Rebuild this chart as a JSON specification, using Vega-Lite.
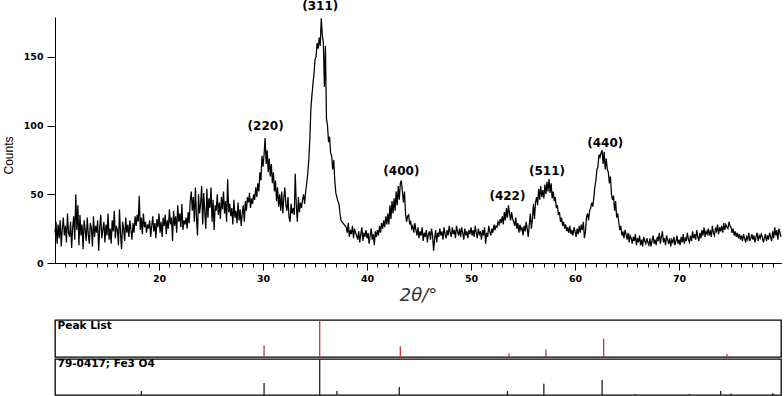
{
"$schema": "https://vega.github.io/schema/vega-lite/v6.json",
"background": "white",
"padding": {"left": 2, "top": 0, "right": 2, "bottom": 0},
"config": {"view": {"stroke": null}, "axis": {"grid": false, "domainColor": "black", "tickColor": "black", "labelColor": "black", "titleColor": "black"}},
"datasets": {
"xrd": [
{"t":10.0,"c":22},{"t":10.1,"c":30},{"t":10.2,"c":14},{"t":10.3,"c":28},{"t":10.4,"c":18},{"t":10.5,"c":31},{"t":10.6,"c":12},{"t":10.7,"c":25},{"t":10.8,"c":33},{"t":10.9,"c":20},
{"t":11.0,"c":27},{"t":11.1,"c":15},{"t":11.2,"c":36},{"t":11.3,"c":22},{"t":11.4,"c":19},{"t":11.5,"c":30},{"t":11.6,"c":11},{"t":11.7,"c":26},{"t":11.8,"c":34},{"t":11.9,"c":17},
{"t":12.0,"c":50},{"t":12.1,"c":24},{"t":12.2,"c":42},{"t":12.3,"c":13},{"t":12.4,"c":35},{"t":12.5,"c":20},{"t":12.6,"c":28},{"t":12.7,"c":10},{"t":12.8,"c":31},{"t":12.9,"c":24},
{"t":13.0,"c":16},{"t":13.1,"c":33},{"t":13.2,"c":21},{"t":13.3,"c":14},{"t":13.4,"c":29},{"t":13.5,"c":25},{"t":13.6,"c":12},{"t":13.7,"c":34},{"t":13.8,"c":19},{"t":13.9,"c":27},
{"t":14.0,"c":22},{"t":14.1,"c":31},{"t":14.2,"c":9},{"t":14.3,"c":26},{"t":14.4,"c":35},{"t":14.5,"c":18},{"t":14.6,"c":24},{"t":14.7,"c":30},{"t":14.8,"c":15},{"t":14.9,"c":28},
{"t":15.0,"c":20},{"t":15.1,"c":36},{"t":15.2,"c":17},{"t":15.3,"c":25},{"t":15.4,"c":14},{"t":15.5,"c":31},{"t":15.6,"c":23},{"t":15.7,"c":38},{"t":15.8,"c":18},{"t":15.9,"c":27},
{"t":16.0,"c":24},{"t":16.1,"c":13},{"t":16.2,"c":39},{"t":16.3,"c":21},{"t":16.4,"c":10},{"t":16.5,"c":30},{"t":16.6,"c":25},{"t":16.7,"c":16},{"t":16.8,"c":33},{"t":16.9,"c":22},
{"t":17.0,"c":28},{"t":17.1,"c":19},{"t":17.2,"c":31},{"t":17.3,"c":24},{"t":17.4,"c":17},{"t":17.5,"c":29},{"t":17.6,"c":22},{"t":17.7,"c":34},{"t":17.8,"c":27},{"t":17.9,"c":35},
{"t":18.0,"c":30},{"t":18.1,"c":49},{"t":18.2,"c":24},{"t":18.3,"c":33},{"t":18.4,"c":21},{"t":18.5,"c":36},{"t":18.6,"c":26},{"t":18.7,"c":30},{"t":18.8,"c":22},{"t":18.9,"c":28},
{"t":19.0,"c":25},{"t":19.1,"c":31},{"t":19.2,"c":19},{"t":19.3,"c":27},{"t":19.4,"c":34},{"t":19.5,"c":23},{"t":19.6,"c":29},{"t":19.7,"c":18},{"t":19.8,"c":32},{"t":19.9,"c":26},
{"t":20.0,"c":36},{"t":20.1,"c":22},{"t":20.2,"c":30},{"t":20.3,"c":19},{"t":20.4,"c":33},{"t":20.5,"c":27},{"t":20.6,"c":35},{"t":20.7,"c":21},{"t":20.8,"c":31},{"t":20.9,"c":25},
{"t":21.0,"c":39},{"t":21.1,"c":28},{"t":21.2,"c":33},{"t":21.3,"c":16},{"t":21.4,"c":38},{"t":21.5,"c":27},{"t":21.6,"c":34},{"t":21.7,"c":22},{"t":21.8,"c":42},{"t":21.9,"c":30},
{"t":22.0,"c":36},{"t":22.1,"c":26},{"t":22.2,"c":43},{"t":22.3,"c":24},{"t":22.4,"c":31},{"t":22.5,"c":28},{"t":22.6,"c":33},{"t":22.7,"c":25},{"t":22.8,"c":37},{"t":22.9,"c":29},
{"t":23.0,"c":45},{"t":23.1,"c":52},{"t":23.2,"c":38},{"t":23.3,"c":48},{"t":23.4,"c":30},{"t":23.5,"c":55},{"t":23.6,"c":34},{"t":23.7,"c":20},{"t":23.8,"c":50},{"t":23.9,"c":36},
{"t":24.0,"c":43},{"t":24.1,"c":56},{"t":24.2,"c":28},{"t":24.3,"c":51},{"t":24.4,"c":37},{"t":24.5,"c":25},{"t":24.6,"c":54},{"t":24.7,"c":33},{"t":24.8,"c":47},{"t":24.9,"c":40},
{"t":25.0,"c":55},{"t":25.1,"c":30},{"t":25.2,"c":46},{"t":25.3,"c":24},{"t":25.4,"c":42},{"t":25.5,"c":38},{"t":25.6,"c":50},{"t":25.7,"c":35},{"t":25.8,"c":44},{"t":25.9,"c":32},
{"t":26.0,"c":48},{"t":26.1,"c":39},{"t":26.2,"c":52},{"t":26.3,"c":36},{"t":26.4,"c":45},{"t":26.5,"c":30},{"t":26.6,"c":61},{"t":26.7,"c":37},{"t":26.8,"c":43},{"t":26.9,"c":34},
{"t":27.0,"c":40},{"t":27.1,"c":28},{"t":27.2,"c":46},{"t":27.3,"c":33},{"t":27.4,"c":38},{"t":27.5,"c":29},{"t":27.6,"c":44},{"t":27.7,"c":31},{"t":27.8,"c":39},{"t":27.9,"c":27},
{"t":28.0,"c":36},{"t":28.1,"c":42},{"t":28.2,"c":30},{"t":28.3,"c":45},{"t":28.4,"c":38},{"t":28.5,"c":48},{"t":28.6,"c":44},{"t":28.7,"c":51},{"t":28.8,"c":40},{"t":28.9,"c":47},
{"t":29.0,"c":43},{"t":29.1,"c":50},{"t":29.2,"c":46},{"t":29.3,"c":55},{"t":29.4,"c":48},{"t":29.5,"c":58},{"t":29.6,"c":52},{"t":29.7,"c":66},{"t":29.8,"c":60},{"t":29.9,"c":78},
{"t":30.0,"c":70},{"t":30.1,"c":79},{"t":30.2,"c":91},{"t":30.3,"c":72},{"t":30.4,"c":82},{"t":30.5,"c":66},{"t":30.6,"c":76},{"t":30.7,"c":63},{"t":30.8,"c":72},{"t":30.9,"c":58},
{"t":31.0,"c":66},{"t":31.1,"c":52},{"t":31.2,"c":60},{"t":31.3,"c":45},{"t":31.4,"c":55},{"t":31.5,"c":41},{"t":31.6,"c":50},{"t":31.7,"c":38},{"t":31.8,"c":52},{"t":31.9,"c":36},
{"t":32.0,"c":47},{"t":32.1,"c":55},{"t":32.2,"c":42},{"t":32.3,"c":38},{"t":32.4,"c":48},{"t":32.5,"c":33},{"t":32.6,"c":30},{"t":32.7,"c":43},{"t":32.8,"c":36},{"t":32.9,"c":40},
{"t":33.0,"c":35},{"t":33.1,"c":65},{"t":33.2,"c":42},{"t":33.3,"c":30},{"t":33.4,"c":48},{"t":33.5,"c":37},{"t":33.6,"c":44},{"t":33.7,"c":40},{"t":33.8,"c":46},{"t":33.9,"c":50},
{"t":34.0,"c":43},{"t":34.1,"c":52},{"t":34.2,"c":58},{"t":34.3,"c":65},{"t":34.4,"c":75},{"t":34.5,"c":90},{"t":34.6,"c":112},{"t":34.7,"c":122},{"t":34.8,"c":130},{"t":34.9,"c":138},
{"t":35.0,"c":148},{"t":35.1,"c":150},{"t":35.2,"c":160},{"t":35.3,"c":156},{"t":35.4,"c":164},{"t":35.5,"c":158},{"t":35.6,"c":178},{"t":35.7,"c":166},{"t":35.8,"c":160},{"t":35.9,"c":128},
{"t":36.0,"c":158},{"t":36.1,"c":105},{"t":36.2,"c":100},{"t":36.3,"c":88},{"t":36.4,"c":92},{"t":36.5,"c":80},{"t":36.6,"c":78},{"t":36.7,"c":68},{"t":36.8,"c":75},{"t":36.9,"c":60},
{"t":37.0,"c":51},{"t":37.1,"c":48},{"t":37.2,"c":45},{"t":37.3,"c":43},{"t":37.4,"c":36},{"t":37.5,"c":31},{"t":37.6,"c":30},{"t":37.7,"c":29},{"t":37.8,"c":28},{"t":37.9,"c":27},
{"t":38.0,"c":26},{"t":38.1,"c":22},{"t":38.2,"c":29},{"t":38.3,"c":19},{"t":38.4,"c":24},{"t":38.5,"c":21},{"t":38.6,"c":27},{"t":38.7,"c":18},{"t":38.8,"c":25},{"t":38.9,"c":22},
{"t":39.0,"c":20},{"t":39.1,"c":17},{"t":39.2,"c":23},{"t":39.3,"c":15},{"t":39.4,"c":21},{"t":39.5,"c":26},{"t":39.6,"c":16},{"t":39.7,"c":22},{"t":39.8,"c":19},{"t":39.9,"c":24},
{"t":40.0,"c":18},{"t":40.1,"c":22},{"t":40.2,"c":14},{"t":40.3,"c":20},{"t":40.4,"c":25},{"t":40.5,"c":17},{"t":40.6,"c":21},{"t":40.7,"c":13},{"t":40.8,"c":23},{"t":40.9,"c":19},
{"t":41.0,"c":24},{"t":41.1,"c":20},{"t":41.2,"c":27},{"t":41.3,"c":22},{"t":41.4,"c":29},{"t":41.5,"c":25},{"t":41.6,"c":31},{"t":41.7,"c":26},{"t":41.8,"c":34},{"t":41.9,"c":28},
{"t":42.0,"c":36},{"t":42.1,"c":28},{"t":42.2,"c":42},{"t":42.3,"c":32},{"t":42.4,"c":45},{"t":42.5,"c":36},{"t":42.6,"c":47},{"t":42.7,"c":38},{"t":42.8,"c":52},{"t":42.9,"c":42},
{"t":43.0,"c":56},{"t":43.1,"c":46},{"t":43.2,"c":58},{"t":43.3,"c":60},{"t":43.4,"c":52},{"t":43.5,"c":44},{"t":43.6,"c":52},{"t":43.7,"c":36},{"t":43.8,"c":30},{"t":43.9,"c":34},
{"t":44.0,"c":35},{"t":44.1,"c":28},{"t":44.2,"c":30},{"t":44.3,"c":25},{"t":44.4,"c":27},{"t":44.5,"c":22},{"t":44.6,"c":29},{"t":44.7,"c":24},{"t":44.8,"c":20},{"t":44.9,"c":26},
{"t":45.0,"c":18},{"t":45.1,"c":23},{"t":45.2,"c":20},{"t":45.3,"c":26},{"t":45.4,"c":16},{"t":45.5,"c":22},{"t":45.6,"c":19},{"t":45.7,"c":24},{"t":45.8,"c":15},{"t":45.9,"c":21},
{"t":46.0,"c":23},{"t":46.1,"c":17},{"t":46.2,"c":25},{"t":46.3,"c":20},{"t":46.4,"c":9},{"t":46.5,"c":18},{"t":46.6,"c":24},{"t":46.7,"c":15},{"t":46.8,"c":22},{"t":46.9,"c":19},
{"t":47.0,"c":25},{"t":47.1,"c":20},{"t":47.2,"c":23},{"t":47.3,"c":17},{"t":47.4,"c":26},{"t":47.5,"c":21},{"t":47.6,"c":18},{"t":47.7,"c":24},{"t":47.8,"c":20},{"t":47.9,"c":27},
{"t":48.0,"c":22},{"t":48.1,"c":19},{"t":48.2,"c":26},{"t":48.3,"c":21},{"t":48.4,"c":24},{"t":48.5,"c":18},{"t":48.6,"c":27},{"t":48.7,"c":23},{"t":48.8,"c":20},{"t":48.9,"c":25},
{"t":49.0,"c":19},{"t":49.1,"c":26},{"t":49.2,"c":22},{"t":49.3,"c":17},{"t":49.4,"c":25},{"t":49.5,"c":20},{"t":49.6,"c":23},{"t":49.7,"c":18},{"t":49.8,"c":24},{"t":49.9,"c":21},
{"t":50.0,"c":26},{"t":50.1,"c":20},{"t":50.2,"c":24},{"t":50.3,"c":19},{"t":50.4,"c":27},{"t":50.5,"c":22},{"t":50.6,"c":18},{"t":50.7,"c":25},{"t":50.8,"c":21},{"t":50.9,"c":23},
{"t":51.0,"c":17},{"t":51.1,"c":24},{"t":51.2,"c":20},{"t":51.3,"c":26},{"t":51.4,"c":14},{"t":51.5,"c":22},{"t":51.6,"c":19},{"t":51.7,"c":27},{"t":51.8,"c":23},{"t":51.9,"c":20},
{"t":52.0,"c":25},{"t":52.1,"c":22},{"t":52.2,"c":28},{"t":52.3,"c":24},{"t":52.4,"c":27},{"t":52.5,"c":26},{"t":52.6,"c":30},{"t":52.7,"c":28},{"t":52.8,"c":32},{"t":52.9,"c":29},
{"t":53.0,"c":34},{"t":53.1,"c":28},{"t":53.2,"c":37},{"t":53.3,"c":31},{"t":53.4,"c":40},{"t":53.5,"c":33},{"t":53.6,"c":42},{"t":53.7,"c":36},{"t":53.8,"c":31},{"t":53.9,"c":37},
{"t":54.0,"c":32},{"t":54.1,"c":30},{"t":54.2,"c":27},{"t":54.3,"c":33},{"t":54.4,"c":25},{"t":54.5,"c":29},{"t":54.6,"c":22},{"t":54.7,"c":28},{"t":54.8,"c":24},{"t":54.9,"c":26},
{"t":55.0,"c":20},{"t":55.1,"c":27},{"t":55.2,"c":23},{"t":55.3,"c":30},{"t":55.4,"c":25},{"t":55.5,"c":19},{"t":55.6,"c":28},{"t":55.7,"c":36},{"t":55.8,"c":25},{"t":55.9,"c":32},
{"t":56.0,"c":43},{"t":56.1,"c":32},{"t":56.2,"c":44},{"t":56.3,"c":48},{"t":56.4,"c":42},{"t":56.5,"c":54},{"t":56.6,"c":46},{"t":56.7,"c":56},{"t":56.8,"c":48},{"t":56.9,"c":53},
{"t":57.0,"c":47},{"t":57.1,"c":57},{"t":57.2,"c":50},{"t":57.3,"c":59},{"t":57.4,"c":52},{"t":57.5,"c":61},{"t":57.6,"c":51},{"t":57.7,"c":58},{"t":57.8,"c":47},{"t":57.9,"c":52},
{"t":58.0,"c":45},{"t":58.1,"c":48},{"t":58.2,"c":40},{"t":58.3,"c":42},{"t":58.4,"c":35},{"t":58.5,"c":37},{"t":58.6,"c":30},{"t":58.7,"c":33},{"t":58.8,"c":27},{"t":58.9,"c":30},
{"t":59.0,"c":25},{"t":59.1,"c":28},{"t":59.2,"c":23},{"t":59.3,"c":26},{"t":59.4,"c":22},{"t":59.5,"c":27},{"t":59.6,"c":21},{"t":59.7,"c":24},{"t":59.8,"c":20},{"t":59.9,"c":26},
{"t":60.0,"c":23},{"t":60.1,"c":19},{"t":60.2,"c":25},{"t":60.3,"c":21},{"t":60.4,"c":27},{"t":60.5,"c":22},{"t":60.6,"c":28},{"t":60.7,"c":24},{"t":60.8,"c":30},{"t":60.9,"c":18},
{"t":61.0,"c":23},{"t":61.1,"c":33},{"t":61.2,"c":36},{"t":61.3,"c":31},{"t":61.4,"c":38},{"t":61.5,"c":40},{"t":61.6,"c":44},{"t":61.7,"c":41},{"t":61.8,"c":47},{"t":61.9,"c":55},
{"t":62.0,"c":60},{"t":62.1,"c":68},{"t":62.2,"c":70},{"t":62.3,"c":79},{"t":62.4,"c":77},{"t":62.5,"c":80},{"t":62.6,"c":82},{"t":62.7,"c":72},{"t":62.8,"c":81},{"t":62.9,"c":68},
{"t":63.0,"c":76},{"t":63.1,"c":68},{"t":63.2,"c":66},{"t":63.3,"c":58},{"t":63.4,"c":63},{"t":63.5,"c":50},{"t":63.6,"c":46},{"t":63.7,"c":49},{"t":63.8,"c":38},{"t":63.9,"c":45},
{"t":64.0,"c":33},{"t":64.1,"c":36},{"t":64.2,"c":30},{"t":64.3,"c":24},{"t":64.4,"c":27},{"t":64.5,"c":20},{"t":64.6,"c":23},{"t":64.7,"c":18},{"t":64.8,"c":24},{"t":64.9,"c":21},
{"t":65.0,"c":17},{"t":65.1,"c":22},{"t":65.2,"c":15},{"t":65.3,"c":20},{"t":65.4,"c":18},{"t":65.5,"c":14},{"t":65.6,"c":19},{"t":65.7,"c":16},{"t":65.8,"c":21},{"t":65.9,"c":13},
{"t":66.0,"c":18},{"t":66.1,"c":15},{"t":66.2,"c":20},{"t":66.3,"c":13},{"t":66.4,"c":17},{"t":66.5,"c":12},{"t":66.6,"c":19},{"t":66.7,"c":16},{"t":66.8,"c":14},{"t":66.9,"c":18},
{"t":67.0,"c":15},{"t":67.1,"c":13},{"t":67.2,"c":18},{"t":67.3,"c":12},{"t":67.4,"c":16},{"t":67.5,"c":20},{"t":67.6,"c":14},{"t":67.7,"c":17},{"t":67.8,"c":13},{"t":67.9,"c":19},
{"t":68.0,"c":16},{"t":68.1,"c":22},{"t":68.2,"c":14},{"t":68.3,"c":19},{"t":68.4,"c":23},{"t":68.5,"c":15},{"t":68.6,"c":18},{"t":68.7,"c":13},{"t":68.8,"c":20},{"t":68.9,"c":17},
{"t":69.0,"c":14},{"t":69.1,"c":18},{"t":69.2,"c":12},{"t":69.3,"c":17},{"t":69.4,"c":15},{"t":69.5,"c":19},{"t":69.6,"c":13},{"t":69.7,"c":16},{"t":69.8,"c":20},{"t":69.9,"c":14},
{"t":70.0,"c":17},{"t":70.1,"c":13},{"t":70.2,"c":19},{"t":70.3,"c":15},{"t":70.4,"c":21},{"t":70.5,"c":14},{"t":70.6,"c":18},{"t":70.7,"c":16},{"t":70.8,"c":22},{"t":70.9,"c":17},
{"t":71.0,"c":15},{"t":71.1,"c":20},{"t":71.2,"c":16},{"t":71.3,"c":23},{"t":71.4,"c":18},{"t":71.5,"c":21},{"t":71.6,"c":17},{"t":71.7,"c":24},{"t":71.8,"c":19},{"t":71.9,"c":16},
{"t":72.0,"c":22},{"t":72.1,"c":18},{"t":72.2,"c":24},{"t":72.3,"c":20},{"t":72.4,"c":26},{"t":72.5,"c":19},{"t":72.6,"c":23},{"t":72.7,"c":21},{"t":72.8,"c":25},{"t":72.9,"c":20},
{"t":73.0,"c":24},{"t":73.1,"c":19},{"t":73.2,"c":27},{"t":73.3,"c":22},{"t":73.4,"c":20},{"t":73.5,"c":25},{"t":73.6,"c":23},{"t":73.7,"c":28},{"t":73.8,"c":21},{"t":73.9,"c":26},
{"t":74.0,"c":23},{"t":74.1,"c":27},{"t":74.2,"c":22},{"t":74.3,"c":29},{"t":74.4,"c":24},{"t":74.5,"c":28},{"t":74.6,"c":26},{"t":74.7,"c":25},{"t":74.8,"c":30},{"t":74.9,"c":27},
{"t":75.0,"c":26},{"t":75.1,"c":22},{"t":75.2,"c":25},{"t":75.3,"c":20},{"t":75.4,"c":23},{"t":75.5,"c":19},{"t":75.6,"c":22},{"t":75.7,"c":18},{"t":75.8,"c":21},{"t":75.9,"c":17},
{"t":76.0,"c":20},{"t":76.1,"c":16},{"t":76.2,"c":21},{"t":76.3,"c":18},{"t":76.4,"c":15},{"t":76.5,"c":19},{"t":76.6,"c":17},{"t":76.7,"c":22},{"t":76.8,"c":16},{"t":76.9,"c":18},
{"t":77.0,"c":21},{"t":77.1,"c":17},{"t":77.2,"c":20},{"t":77.3,"c":15},{"t":77.4,"c":19},{"t":77.5,"c":22},{"t":77.6,"c":16},{"t":77.7,"c":20},{"t":77.8,"c":18},{"t":77.9,"c":21},
{"t":78.0,"c":19},{"t":78.1,"c":15},{"t":78.2,"c":18},{"t":78.3,"c":21},{"t":78.4,"c":16},{"t":78.5,"c":20},{"t":78.6,"c":17},{"t":78.7,"c":22},{"t":78.8,"c":19},{"t":78.9,"c":16},
{"t":79.0,"c":23},{"t":79.1,"c":18},{"t":79.2,"c":26},{"t":79.3,"c":20},{"t":79.4,"c":24},{"t":79.5,"c":17},{"t":79.6,"c":25},{"t":79.7,"c":22},{"t":79.8,"c":19}
],
"hkl": [
{"t":30.25,"c":100,"label":"(220)"},
{"t":35.5,"c":187,"label":"(311)"},
{"t":43.3,"c":67,"label":"(400)"},
{"t":53.5,"c":48.5,"label":"(422)"},
{"t":57.3,"c":67,"label":"(511)"},
{"t":62.9,"c":87,"label":"(440)"}
],
"peaks": [
{"t":30.1,"rel":32},{"t":35.45,"rel":100},{"t":43.2,"rel":29},{"t":53.65,"rel":10},{"t":57.2,"rel":21},{"t":62.75,"rel":50},{"t":74.6,"rel":8}
],
"ref": [
{"t":18.3,"rel":11},{"t":30.1,"rel":33},{"t":35.45,"rel":100},{"t":37.1,"rel":11},{"t":43.1,"rel":22},{"t":53.5,"rel":11},{"t":57.0,"rel":31},{"t":62.6,"rel":42},{"t":65.8,"rel":3},{"t":71.0,"rel":3},{"t":74.0,"rel":11},{"t":75.0,"rel":4},{"t":79.0,"rel":5}
],
"lab1": [{"t":10.25,"rel":100,"label":"Peak List"}],
"lab2": [{"t":10.25,"rel":100,"label":"79-0417; Fe3 O4"}]
},
"resolve": {"scale": {"x": "independent", "y": "independent"}},
"spacing": 13,
"vconcat": [
{
"width": 726, "height": 246,
"resolve": {"axis": {"x": "independent"}},
"layer": [
{"data": {"name": "xrd"},
 "mark": {"type": "line", "color": "black", "strokeWidth": 1.25},
 "encoding": {
  "x": {"field": "t", "type": "quantitative", "scale": {"domain": [10, 79.8], "nice": false, "zero": false},
   "axis": {"orient": "bottom", "title": null, "labels": false, "tickSize": 4, "values": [11,12,13,14,15,16,17,18,19,21,22,23,24,25,26,27,28,29,31,32,33,34,35,36,37,38,39,41,42,43,44,45,46,47,48,49,51,52,53,54,55,56,57,58,59,61,62,63,64,65,66,67,68,69,71,72,73,74,75,76,77,78,79]}},
  "y": {"field": "c", "type": "quantitative", "scale": {"domain": [0, 179], "nice": false},
   "axis": {"title": "Counts", "values": [0, 50, 100, 150], "tickSize": 8, "labelPadding": 4,
    "labelFont": "DejaVu Sans", "labelFontWeight": "bold", "labelFontSize": 9.5,
    "titleFont": "Liberation Sans", "titleFontWeight": "normal", "titleFontSize": 12, "titlePadding": 8, "titleY": 138}}
 }},
{"data": {"name": "hkl"},
 "mark": {"type": "text", "font": "DejaVu Sans", "fontWeight": "bold", "fontSize": 12, "color": "black"},
 "encoding": {
  "x": {"field": "t", "type": "quantitative",
   "axis": {"orient": "bottom", "title": "2θ/°", "values": [20, 30, 40, 50, 60, 70], "tickSize": 7,
    "labelPadding": 3, "labelFlush": false,
    "labelFont": "DejaVu Sans", "labelFontWeight": "bold", "labelFontSize": 9.5,
    "titleFont": "DejaVu Sans", "titleFontStyle": "italic", "titleFontWeight": "normal", "titleFontSize": 18, "titleColor": "#333333", "titlePadding": 4}},
  "y": {"field": "c", "type": "quantitative"},
  "text": {"field": "label"}
 }}
]
},
{
"spacing": -2,
"resolve": {"scale": {"x": "independent", "y": "independent"}},
"vconcat": [
{
"width": 726, "height": 37,
"view": {"stroke": "black", "strokeWidth": 1.3},
"layer": [
{"data": {"name": "peaks"},
 "mark": {"type": "rule", "color": "#c8383c", "strokeWidth": 1.3},
 "encoding": {
  "x": {"field": "t", "type": "quantitative", "scale": {"domain": [10, 79.8], "nice": false, "zero": false}, "axis": null},
  "y": {"field": "rel", "type": "quantitative", "scale": {"domain": [0, 100], "nice": false}, "axis": null},
  "y2": {"datum": 0}
 }},
{"data": {"name": "lab1"},
 "mark": {"type": "text", "align": "left", "baseline": "top", "font": "DejaVu Sans", "fontWeight": "bold", "fontSize": 10.5, "color": "black", "dy": 1},
 "encoding": {
  "x": {"field": "t", "type": "quantitative"},
  "y": {"field": "rel", "type": "quantitative"},
  "text": {"field": "label"}
 }}
]
},
{
"width": 726, "height": 36,
"view": {"stroke": "black", "strokeWidth": 1.3},
"layer": [
{"data": {"name": "ref"},
 "mark": {"type": "rule", "color": "#222222", "strokeWidth": 1.3},
 "encoding": {
  "x": {"field": "t", "type": "quantitative", "scale": {"domain": [10, 79.8], "nice": false, "zero": false}, "axis": null},
  "y": {"field": "rel", "type": "quantitative", "scale": {"domain": [0, 100], "nice": false}, "axis": null},
  "y2": {"datum": 0}
 }},
{"data": {"name": "lab2"},
 "mark": {"type": "text", "align": "left", "baseline": "top", "font": "DejaVu Sans", "fontWeight": "bold", "fontSize": 10.5, "color": "black", "dy": 0},
 "encoding": {
  "x": {"field": "t", "type": "quantitative"},
  "y": {"field": "rel", "type": "quantitative"},
  "text": {"field": "label"}
 }}
]
}
]
}
]
}
